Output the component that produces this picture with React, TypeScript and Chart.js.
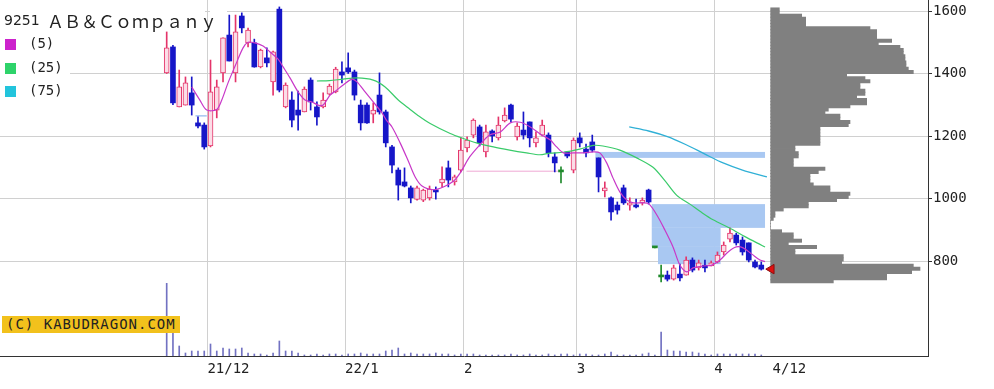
import React, { useEffect, useRef } from "react";
import { Chart, registerables } from "chart.js";
Chart.register(...registerables);

// ---- daily candles (trading-day index 0..95) ----
const opens = [1402,1485,1293,1299,1338,1242,1235,1168,1283,1402,1523,1402,1584,1498,1498,1421,1450,1373,1606,1293,1315,1283,1277,1379,1293,1293,1334,1341,1405,1418,1405,1299,1299,1270,1331,1277,1165,1091,1053,1034,997,995,1002,1027,1050,1098,1053,1091,1162,1203,1229,1149,1216,1194,1248,1299,1197,1219,1245,1178,1203,1203,1133,1085,1149,1091,1194,1158,1181,1130,1024,1002,979,1034,979,979,986,1027,842,749,755,742,758,755,803,778,787,784,797,829,870,883,867,858,797,787];
const highs = [1533,1490,1411,1389,1389,1261,1242,1443,1379,1514,1587,1587,1594,1545,1510,1478,1482,1472,1613,1370,1341,1344,1357,1386,1309,1338,1366,1420,1437,1466,1411,1315,1306,1306,1402,1283,1170,1098,1098,1040,1040,1030,1040,1037,1101,1120,1075,1194,1197,1255,1235,1235,1220,1261,1290,1302,1242,1277,1245,1213,1251,1210,1146,1101,1149,1194,1210,1174,1203,1130,1053,1005,989,1043,1002,998,1002,1030,842,787,768,787,790,813,810,803,803,800,829,861,906,889,877,858,803,797];
const lows = [1400,1300,1293,1299,1267,1226,1158,1165,1258,1373,1440,1373,1530,1485,1420,1418,1421,1331,1341,1290,1229,1219,1277,1283,1235,1290,1331,1338,1370,1400,1315,1219,1240,1242,1270,1165,1082,995,1037,986,995,990,995,998,1037,1037,1043,1085,1149,1194,1168,1133,1181,1187,1245,1245,1187,1190,1165,1165,1200,1133,1085,1050,1130,1082,1165,1133,1149,1021,1005,931,950,981,963,970,979,982,842,733,736,739,736,755,765,771,765,784,794,819,861,851,819,797,778,771];
const closes = [1482,1306,1357,1370,1299,1232,1165,1341,1357,1514,1440,1533,1546,1539,1421,1475,1434,1469,1347,1363,1251,1267,1350,1309,1261,1315,1360,1414,1395,1405,1331,1242,1242,1283,1277,1178,1107,1043,1040,1002,1034,1027,1030,1021,1062,1059,1069,1155,1187,1251,1178,1213,1200,1235,1267,1254,1232,1203,1194,1194,1235,1146,1114,1085,1136,1187,1178,1146,1155,1069,1034,957,963,986,986,973,995,989,842,749,742,778,746,803,771,794,778,794,819,851,889,858,829,803,781,774];
const volumes = [727,230,100,30,50,50,50,120,50,80,70,70,80,30,20,20,10,30,150,50,50,30,10,10,20,10,20,20,10,20,20,30,20,20,20,50,60,80,20,30,20,20,20,30,20,20,10,20,20,20,10,10,10,10,10,20,10,10,20,10,10,20,10,20,20,10,20,20,10,10,20,40,10,10,10,10,20,30,10,240,60,50,50,40,40,30,20,10,20,20,20,20,20,20,20,10];

// ---- moving averages ----
const ma5Idx = [4,5.3,6.4,8,8.8,9.8,11,12.2,13,14.1,15.4,16.5,17.8,18.6,19.7,21,22.1,23.2,24.2,25,26.1,27,28.2,29.6,30.4,31.7,33,34.4,35.1,36,37.3,38.6,39.7,40.8,42.6,44.2,45.8,46.9,48.4,50,51.6,53.3,54.9,56.5,58.1,59.8,61.3,62.3,63.4,65,66.6,68.2,69.2,70.3,71.3,72.4,73.5,74.6,76.2,77.1,78.5,79.6,80.9,82,83.1,84.1,85.7,87.1,88.4,89.7,91,92.1,93.5,94.8,95.6];
const ma5Val = [1357,1315,1283,1285,1315,1370,1427,1482,1500,1498,1488,1469,1446,1421,1386,1341,1315,1309,1299,1299,1331,1344,1363,1382,1373,1341,1309,1274,1251,1229,1178,1120,1069,1040,1028,1037,1055,1082,1133,1171,1203,1213,1242,1244,1229,1205,1187,1165,1146,1146,1146,1149,1146,1114,1066,1021,995,986,986,982,941,899,845,787,765,778,784,787,803,829,845,842,822,803,798];
const ma25Idx = [24,26,28.2,30.4,33,34.9,37,38.9,40,42.1,45.3,47.4,49.5,52.2,54.8,57.5,59.6,61.2,63.4,66,68.2,69.7,72.4,75.1,77.7,79.6,81.5,83.6,85.5,87.3,90,92.4,94.3,95.6];
const ma25Val = [1376,1377,1382,1386,1379,1357,1315,1285,1268,1240,1208,1192,1178,1165,1155,1146,1140,1145,1148,1158,1170,1168,1155,1130,1100,1057,1010,982,955,932,905,878,858,845];
const ma75Idx = [73.9,77,80,83,86,89,92,95.9];
const ma75Val = [1229,1216,1198,1172,1142,1113,1091,1069];

// ---- unfilled price gaps (windows) ----
const gapFrom = [4.6,68.5,77.5,77.5,78.5,47.9];
const gapTo = [6.4,95.6,95.6,88.5,88.5,62.5];
const gapLow = [1262,1130,906,845,790,1086];
const gapHigh = [1267,1149,982,906,845,1089];
const gapColors = ["#a9c8f2","#a9c8f2","#a9c8f2","#a9c8f2","#a9c8f2","#f0a8d4"];

// ---- volume by price (10-yen bins) ----
const profilePrices = [1605,1595,1585,1575,1565,1555,1545,1535,1525,1515,1505,1495,1485,1475,1465,1455,1445,1435,1425,1415,1405,1395,1385,1375,1365,1355,1345,1335,1325,1315,1305,1295,1285,1275,1265,1255,1245,1235,1225,1215,1205,1195,1185,1175,1165,1155,1145,1135,1125,1115,1105,1095,1085,1075,1065,1055,1045,1035,1025,1015,1005,995,985,975,965,955,945,935,925,915,905,895,885,875,865,855,845,835,825,815,805,795,785,775,765,755,745,735];
const profileVolumes = [26,26,93,105,105,105,298,318,318,318,363,323,388,398,398,403,403,406,406,413,428,228,283,298,268,268,283,283,258,288,288,238,173,163,208,208,238,233,148,148,148,148,148,148,73,73,83,83,68,68,68,163,143,118,118,118,128,178,178,238,233,198,113,113,38,13,13,8,0,0,0,33,68,68,93,53,138,73,73,218,218,213,428,448,423,348,348,188];

// ---- axes ----
const monthTickIdx = [6.5, 28.5, 47.5, 65.5, 87.5, 96.8];
const monthTickLabels = ["21/12", "22/1", "2", "3", "4", "4/12"];
const priceTicks = [800, 1000, 1200, 1400, 1600];
const lastMarkIdx = 96.6;

const upColor = "#e4346a";
const upFill = "#fbdde7";
const downColor = "#1616c8";
const dojiColor = "#1f8a2c";
const candleColor = (i: number) =>
  closes[i] > opens[i] ? upColor : closes[i] < opens[i] ? downColor : dojiColor;

const gapPlugin = {
  id: "gaps",
  beforeDatasetsDraw(chart: any) {
    const { ctx, chartArea, scales } = chart;
    const x = scales.x, y = scales.y;
    ctx.save();
    ctx.beginPath();
    ctx.rect(chartArea.left, chartArea.top, chartArea.right - chartArea.left, chartArea.bottom - chartArea.top);
    ctx.clip();
    for (let k = 0; k < gapFrom.length; k++) {
      const x0 = x.getPixelForValue(gapFrom[k]);
      const x1 = x.getPixelForValue(gapTo[k]);
      const y0 = y.getPixelForValue(gapHigh[k]);
      const y1 = y.getPixelForValue(gapLow[k]);
      ctx.fillStyle = gapColors[k];
      ctx.fillRect(x0, y0, x1 - x0, Math.max(1, y1 - y0));
    }
    ctx.restore();
  },
};

const FONT = "'DejaVu Sans Mono', monospace";

export default function App() {
  const ref = useRef<HTMLCanvasElement | null>(null);
  useEffect(() => {
    if (!ref.current) return;
    const xMin = -26.634;
    const xMax = 121.64;
    const chart = new Chart(ref.current, {
      type: "bar",
      data: {
        datasets: [
          {
            type: "line", label: "last",
            data: [{ x: lastMarkIdx, y: closes[closes.length - 1] }],
            showLine: false, pointStyle: "triangle", rotation: -90, pointRadius: 5.5,
            backgroundColor: "#e01010", borderColor: "#8a1010", borderWidth: 1, order: 0,
          } as any,
          {
            type: "line", label: "MA5",
            data: ma5Idx.map((x, k) => ({ x, y: ma5Val[k] })),
            borderColor: "#c838c8", borderWidth: 1.2, pointRadius: 0, tension: 0.3, order: 1,
          } as any,
          {
            type: "line", label: "MA25",
            data: ma25Idx.map((x, k) => ({ x, y: ma25Val[k] })),
            borderColor: "#3acb6a", borderWidth: 1.2, pointRadius: 0, tension: 0.3, order: 1,
          } as any,
          {
            type: "line", label: "MA75",
            data: ma75Idx.map((x, k) => ({ x, y: ma75Val[k] })),
            borderColor: "#30b0d6", borderWidth: 1.3, pointRadius: 0, tension: 0.3, order: 1,
          } as any,
          {
            type: "bar", label: "body",
            data: opens.map((o, i) => ({ x: i, y: [o, closes[i]] })),
            barThickness: 5, grouped: false, minBarLength: 2, borderSkipped: false,
            backgroundColor: (c: any) =>
              closes[c.dataIndex] > opens[c.dataIndex] ? upFill : candleColor(c.dataIndex),
            borderColor: (c: any) => candleColor(c.dataIndex),
            borderWidth: (c: any) => (closes[c.dataIndex] > opens[c.dataIndex] ? 1 : 0),
            order: 2,
          } as any,
          {
            type: "bar", label: "wick",
            data: lows.map((l, i) => ({ x: i, y: [l, highs[i]] })),
            barThickness: 1, grouped: false,
            backgroundColor: (c: any) => candleColor(c.dataIndex), order: 3,
          } as any,
          {
            type: "bar", label: "volume", yAxisID: "yv",
            data: volumes.map((v, i) => ({ x: i, y: v })),
            barThickness: 1, grouped: false, backgroundColor: "#7272c2", order: 4,
          } as any,
          {
            type: "bar", label: "profile", indexAxis: "y", xAxisID: "xp", yAxisID: "y",
            data: profilePrices.map((p, k) => ({ y: p, x: [0, profileVolumes[k]] })),
            barThickness: 3.3, grouped: false, backgroundColor: "#808080", order: 5,
          } as any,
        ],
      },
      options: {
        responsive: false,
        maintainAspectRatio: false,
        animation: false,
        events: [],
        layout: { padding: 0, autoPadding: false },
        plugins: { legend: { display: false }, tooltip: { enabled: false } },
        scales: {
          x: {
            type: "linear", min: xMin, max: xMax, offset: false,
            afterBuildTicks: (s: any) => { s.ticks = monthTickIdx.map((v) => ({ value: v })); },
            afterFit: (s: any) => { s.height = 33; s.paddingLeft = 0; s.paddingRight = 0; },
            ticks: {
              autoSkip: false, maxRotation: 0, minRotation: 0, align: "start", padding: 5,
              color: "#222", font: { family: FONT, size: 14 },
              callback: (_v: any, i: number) => monthTickLabels[i],
            },
            grid: {
              offset: false, drawTicks: false,
              color: (c: any) => (c.tick && c.tick.value > 95 ? "rgba(0,0,0,0)" : "#d0d0d0"),
            },
            border: { color: "#333", width: 1 },
          } as any,
          y: {
            type: "linear", position: "right", min: 496, max: 1635.2, offset: false,
            afterBuildTicks: (s: any) => { s.ticks = priceTicks.map((v) => ({ value: v })); },
            afterFit: (s: any) => { s.width = 66; s.paddingTop = 0; s.paddingBottom = 0; },
            ticks: { padding: 1, color: "#222", font: { family: FONT, size: 14 }, callback: (v: any) => String(v) },
            grid: { offset: false, color: "#d0d0d0", tickColor: "#333", tickLength: 4, drawTicks: true },
            border: { color: "#333", width: 1 },
          } as any,
          yv: { type: "linear", display: false, offset: false, min: 0, max: 3560, grid: { offset: false } } as any,
          xp: { type: "linear", display: false, offset: false, min: -2312, max: 472, grid: { offset: false } } as any,
        },
      },
      plugins: [gapPlugin],
    });
    return () => chart.destroy();
  }, []);

  const sq = (top: number, color: string, label: string) => (
    <div key={label} style={{ position: "absolute", left: 5, top, height: 14 }}>
      <div style={{ position: "absolute", left: 0, top: 1, width: 11, height: 11, background: color }} />
      <div style={{ position: "absolute", left: 24, top: -3, font: `14px ${FONT}`, color: "#222", whiteSpace: "pre" }}>
        {label}
      </div>
    </div>
  );

  return (
    <div style={{ position: "fixed", left: 0, top: 0, width: 994, height: 389, background: "#fff", overflow: "hidden" }}>
      <canvas ref={ref} width={994} height={389} style={{ display: "block", width: 994, height: 389 }} />
      <div style={{ position: "absolute", left: 0, top: 0, width: 205, height: 30, background: "#fff" }} />
      <div style={{ position: "absolute", left: 210, top: 0, width: 17, height: 30, background: "#fff" }} />
      <div style={{ position: "absolute", left: 0, top: 30, width: 70, height: 72, background: "#fff" }} />
      <div style={{ position: "absolute", left: 4, top: 12, font: "14px 'DejaVu Sans'", color: "#222", whiteSpace: "pre" }}>9251</div>
      <div style={{ position: "absolute", left: 47, top: 8, font: "17px 'Noto Sans CJK JP'", color: "#222", whiteSpace: "pre" }}>
        ＡＢ＆Ｃｏｍｐａｎｙ
      </div>
      {sq(38, "#cc22cc", "(5)")}
      {sq(62, "#2ed36a", "(25)")}
      {sq(85, "#22c4dc", "(75)")}
      <div style={{ position: "absolute", left: 2, top: 316, width: 178, height: 17, background: "#f2c11c", font: `14px ${FONT}`, letterSpacing: "1px", color: "#222", lineHeight: "17px", paddingLeft: 4, boxSizing: "border-box", whiteSpace: "pre" }}>
        (C) KABUDRAGON.COM
      </div>
    </div>
  );
}
